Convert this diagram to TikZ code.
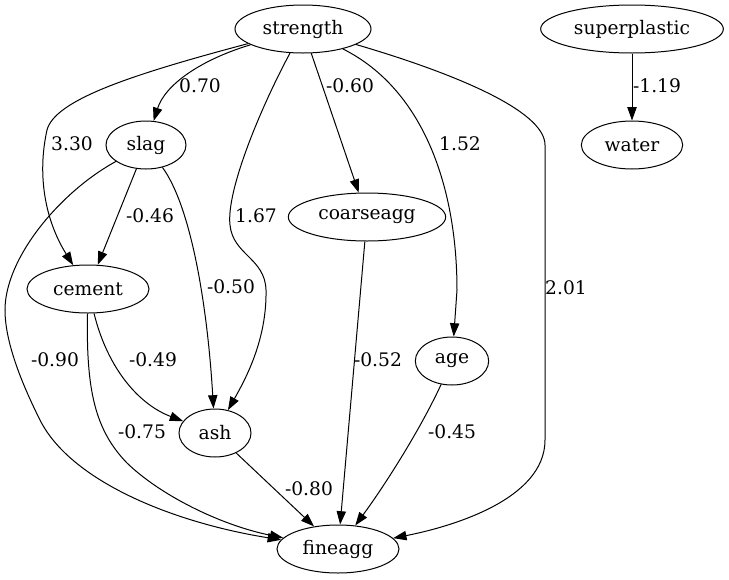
\documentclass[tikz,border=0pt]{standalone}
\usepackage{fontspec}
\setmainfont{DejaVu Serif}
\usetikzlibrary{shapes.geometric, arrows.meta}

\begin{document}
\begin{tikzpicture} [x=0.75pt, y=-0.75pt,
                font=\fontsize{14}{16}\selectfont,
                var/.style = {ellipse, draw, line width=0.75pt,
                    inner sep=0pt, minimum height=36pt},
                wt/.style = {inner sep=0pt},
                arr/.style = {-{Triangle[length=10pt, width=7pt]},
                    line width=0.75pt}]

            \useasboundingbox (0,0) rectangle (729,579);

            % Variable strength
            \node (strength) [var, minimum width=102pt] at (303,29) {strength};

            % Variable superplastic
            \node (superplastic) [var, minimum width=137pt] at (632,29) {superplastic};

            % Variable water
            \node (water) [var, minimum width=76pt] at (632,145) {water};

            % Variable slag
            \node (slag) [var, minimum width=60pt] at (146,145) {slag};

            % Variable coarseagg
            \node (coarseagg) [var, minimum width=118pt] at (367,217) {coarseagg};

            % Variable cement
            \node (cement) [var, minimum width=91.5pt] at (88,289) {cement};

            % Variable age
            \node (age) [var, minimum width=55pt] at (452,361) {age};

            % Variable ash
            \node (ash) [var, minimum width=54pt] at (215,433) {ash};

            % Variable fineagg
            \node (fineagg) [var, minimum width=91.5pt] at (338,549) {fineagg};

            % Arrows
            \draw [arr] (strength) .. controls (200,60) and (165,85) .. (slag);
            \draw [arr] (strength) .. controls (130,75) and (55,100) .. (47,130)
                .. controls (37,175) and (45,220) .. (cement);
            \draw [arr] (strength) .. controls (262,105) and (226,190) .. (230,225)
                .. controls (233,255) and (265,258) .. (266,290)
                .. controls (267,340) and (245,380) .. (ash);
            \draw [arr] (strength) -- (coarseagg);
            \draw [arr] (strength) .. controls (425,90) and (457,190) .. (457,290)
                -- (age);
            \draw [arr] (strength) .. controls (450,72) and (545,110) .. (545,145)
                -- (545,440) .. controls (545,500) and (450,527) .. (fineagg);
            \draw [arr] (superplastic) -- (water);
            \draw [arr] (slag) -- (cement);
            \draw [arr] (slag) .. controls (190,205) and (207,300) .. (ash);
            \draw [arr] (slag) .. controls (60,192) and (5,258) .. (5,310)
                .. controls (5,345) and (25,390) .. (40,420)
                .. controls (70,480) and (170,522) .. (fineagg);
            \draw [arr] (cement) .. controls (108,370) and (140,405) .. (ash);
            \draw [arr] (cement) .. controls (86,390) and (95,430) .. (127,463)
                .. controls (160,495) and (220,525) .. (fineagg);
            \draw [arr] (coarseagg) -- (fineagg);
            \draw [arr] (age) .. controls (420,430) and (385,485) .. (fineagg);
            \draw [arr] (ash) -- (fineagg);

            % Weights
            \node (w070) [wt] at (200,86) {0.70};
            \node (w330) [wt] at (72,144) {3.30};
            \node (w167) [wt] at (256,216) {1.67};
            \node (w060) [wt] at (350,86) {-0.60};
            \node (w152) [wt] at (460,144) {1.52};
            \node (w201) [wt] at (566,288) {2.01};
            \node (w119) [wt] at (657,86) {-1.19};
            \node (w046) [wt] at (150,216) {-0.46};
            \node (w050) [wt] at (231,287) {-0.50};
            \node (w090) [wt] at (55,360) {-0.90};
            \node (w049) [wt] at (153,360) {-0.49};
            \node (w075) [wt] at (142,432) {-0.75};
            \node (w052) [wt] at (378,360) {-0.52};
            \node (w045) [wt] at (452,432) {-0.45};
            \node (w080) [wt] at (309,489) {-0.80};
\end{tikzpicture}
\end{document}
